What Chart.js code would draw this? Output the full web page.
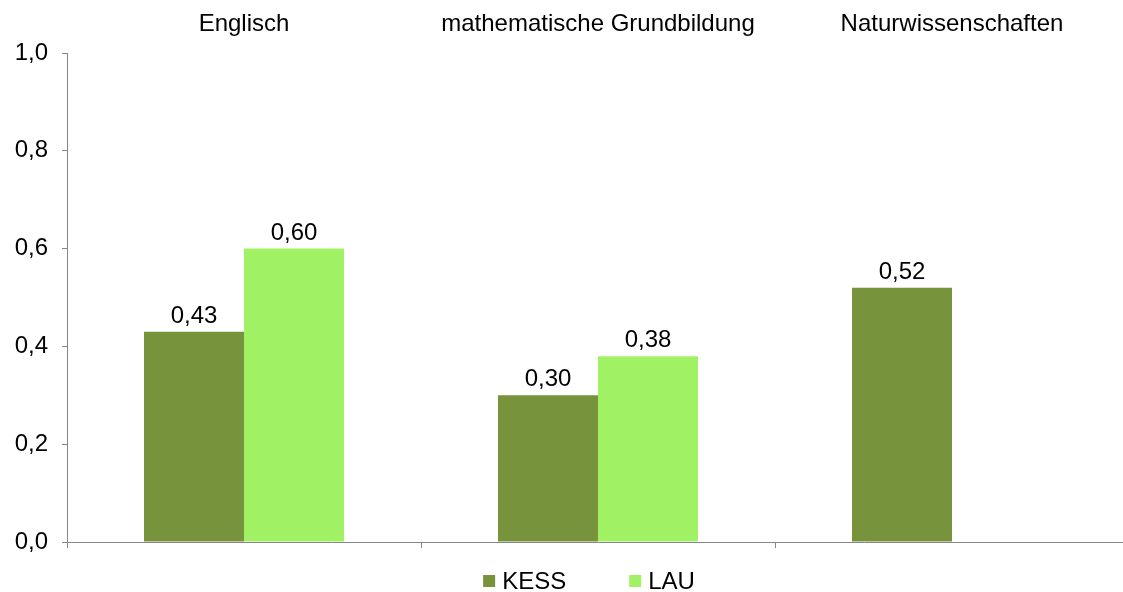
<!DOCTYPE html>
<html>
<head>
<meta charset="utf-8">
<script src="https://cdn.jsdelivr.net/npm/chart.js@4/dist/chart.umd.min.js"></script>
<style>
  html, body { margin: 0; padding: 0; background: #fff; overflow: hidden; width: 1123px; height: 592px; }
  #wrap { position: relative; width: 1135px; height: 592px; }
</style>
</head>
<body>
<div id="wrap"><canvas id="c"></canvas></div>
<script>
// Chart data
const categories = ['Englisch', 'mathematische Grundbildung', 'Naturwissenschaften'];
const kessValues = [0.43, 0.30, 0.52];
const lauValues = [0.60, 0.38, null];
const seriesNames = ['KESS', 'LAU'];
const seriesColors = ['#77933C', '#A0F264'];
const yMin = 0;
const yMax = 1.0;
const yStep = 0.2;

const FONT = "'Liberation Sans', Arial, sans-serif";
const FONT_SIZE = 24;
const AXIS_COLOR = '#868686';

const decimalComma = (v, digits) => v.toFixed(digits).replace('.', ',');

// Value labels above each bar
const valueLabels = {
  id: 'valueLabels',
  afterDatasetsDraw(chart) {
    const ctx = chart.ctx;
    ctx.save();
    ctx.font = `${FONT_SIZE}px ${FONT}`;
    ctx.fillStyle = '#000';
    ctx.textAlign = 'center';
    ctx.textBaseline = 'alphabetic';
    chart.data.datasets.forEach((ds, di) => {
      const meta = chart.getDatasetMeta(di);
      meta.data.forEach((el, i) => {
        const v = ds.data[i];
        if (v === null || v === undefined) return;
        ctx.fillText(decimalComma(v, 2), el.x, el.y - 9);
      });
    });
    ctx.restore();
  }
};

// Legend row centred under the plot
const bottomLegend = {
  id: 'bottomLegend',
  afterDraw(chart) {
    const ctx = chart.ctx;
    const area = chart.chartArea;
    ctx.save();
    ctx.font = `${FONT_SIZE}px ${FONT}`;
    ctx.textBaseline = 'middle';
    ctx.textAlign = 'left';
    const box = 12, textGap = 7, itemGap = 63;
    const items = chart.data.datasets.map(ds => ({
      label: ds.label, color: ds.backgroundColor, w: ctx.measureText(ds.label).width
    }));
    const total = items.reduce((s, it) => s + box + textGap + it.w, 0) + itemGap * (items.length - 1);
    let x = (area.left + area.right) / 2 - 9 - total / 2;
    const y = 581;
    items.forEach(it => {
      ctx.fillStyle = it.color;
      ctx.fillRect(x, y - 6, box, box);
      ctx.fillStyle = '#000';
      ctx.fillText(it.label, x + box + textGap, y + 1);
      x += box + textGap + it.w + itemGap;
    });
    ctx.restore();
  }
};

new Chart(document.getElementById('c'), {
  type: 'bar',
  data: {
    labels: categories,
    datasets: [
      { label: seriesNames[0], data: kessValues, backgroundColor: seriesColors[0], borderWidth: 0,
        categoryPercentage: 0.565, barPercentage: 1.0 },
      { label: seriesNames[1], data: lauValues, backgroundColor: seriesColors[1], borderWidth: 0,
        categoryPercentage: 0.565, barPercentage: 1.0 }
    ]
  },
  options: {
    responsive: true,
    maintainAspectRatio: false,
    animation: false,
    layout: { padding: { left: 0, right: 6, top: 0, bottom: 42 } },
    plugins: {
      legend: { display: false },
      tooltip: { enabled: false }
    },
    scales: {
      x: {
        position: 'bottom',
        offset: true,
        grid: { display: true, offset: true, drawOnChartArea: false, drawTicks: true, tickLength: 6, color: AXIS_COLOR, lineWidth: 1 },
        border: { display: true, color: AXIS_COLOR, width: 1 },
        ticks: { display: false },
        afterFit: s => { s.height = 8; }
      },
      x2: {
        type: 'category',
        position: 'top',
        offset: true,
        grid: { display: false, drawTicks: false },
        border: { display: false },
        ticks: { color: '#000', font: { family: FONT, size: FONT_SIZE }, padding: 14, maxRotation: 0, autoSkip: false },
        afterFit: s => { s.height = 53; }
      },
      y: {
        min: yMin,
        max: yMax,
        ticks: {
          stepSize: yStep,
          color: '#000',
          font: { family: FONT, size: FONT_SIZE },
          padding: 14,
          callback: v => decimalComma(v, 1)
        },
        grid: { drawOnChartArea: false, tickLength: 5, color: AXIS_COLOR },
        border: { display: true, color: AXIS_COLOR, width: 1 },
        afterFit: s => { s.width = 67; }
      }
    }
  },
  plugins: [valueLabels, bottomLegend]
});
</script>
</body>
</html>
